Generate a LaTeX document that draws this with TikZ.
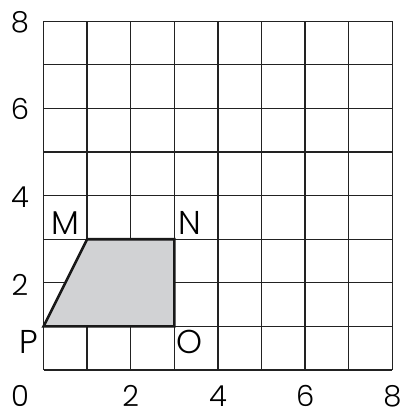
\documentclass[tikz,border=0pt]{standalone}
\usepackage{fontspec}
\setmainfont{Poppins}[UprightFont=* Light]
\definecolor{shade}{HTML}{D1D2D4}
\definecolor{gridc}{HTML}{222222}
\begin{document}
\begin{tikzpicture}[x=43.6pt,y=43.6pt,
  gridline/.style={draw=gridc,line width=1.3pt},
  shapeline/.style={draw=black!90,line width=2.6pt,line join=miter,fill=shade},
  ticklab/.style={font=\fontsize{29}{29}\selectfont,inner sep=0pt,anchor=base},
  ptlab/.style={font=\fontsize{33}{33}\selectfont,inner sep=0pt,anchor=base}]
\useasboundingbox (-0.998,-1.009) rectangle (8.2,8.486);
\foreach \i in {0,...,8} {
  \draw[gridline] (\i,0) -- (\i,8);
  \draw[gridline] (0,\i) -- (8,\i);
}
\coordinate (P) at (0,1);
\coordinate (O) at (3,1);
\coordinate (N) at (3,3);
\coordinate (M) at (1,3);
\draw[shapeline] (P) -- (O) -- (N) -- (M) -- cycle;
\node[ptlab] (lM) at (0.5,3.1) {M};
\node[ptlab] (lN) at (3.35,3.1) {N};
\node[ptlab] (lP) at (-0.33,0.39) {P};
\node[ptlab] (lO) at (3.35,0.39) {O};
\node[ticklab] (x0) at (-0.54,-0.84) {0};
\node[ticklab] (x2) at (2,-0.84) {2};
\node[ticklab] (x4) at (4,-0.84) {4};
\node[ticklab] (x6) at (6,-0.84) {6};
\node[ticklab] (x8) at (8,-0.84) {8};
\node[ticklab] (y2) at (-0.54,1.72) {2};
\node[ticklab] (y4) at (-0.54,3.72) {4};
\node[ticklab] (y6) at (-0.54,5.74) {6};
\node[ticklab] (y8) at (-0.54,7.75) {8};
\end{tikzpicture}
\end{document}
